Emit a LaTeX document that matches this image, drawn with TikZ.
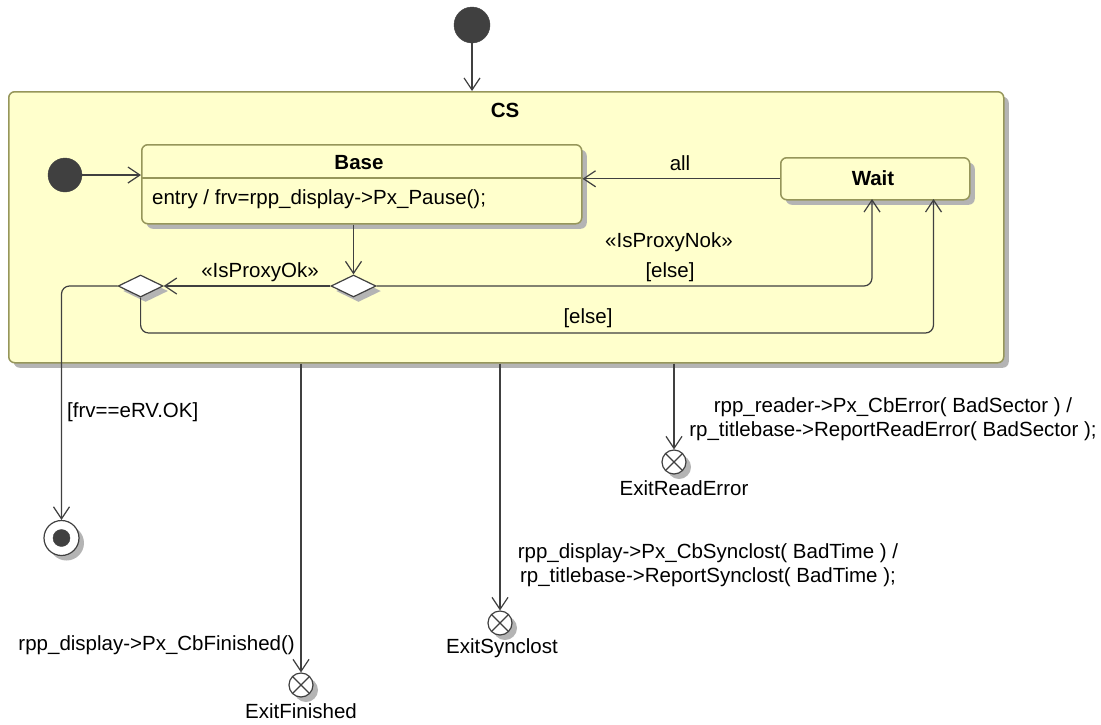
\documentclass[tikz,border=0pt]{standalone}
\usepackage{fontspec}
\setmainfont{Liberation Sans}
\usetikzlibrary{arrows.meta,shapes.geometric,shadows,calc}
\definecolor{stfill}{RGB}{255,255,204}
\definecolor{stborder}{RGB}{150,150,90}
\definecolor{ln}{RGB}{64,64,64}
\definecolor{shd}{RGB}{180,180,180}
\begin{document}
\begin{tikzpicture}[x=1pt,y=-1pt,
  txt/.style={font=\fontsize{20.5}{24}\selectfont, inner sep=0pt, text=black},
  bold/.style={txt, font=\fontsize{20.5}{24}\selectfont\bfseries},
  shad/.style={drop shadow={shadow xshift=5pt, shadow yshift=-5pt, fill=shd, opacity=1}},
  statebox/.style={draw=stborder, fill=stfill, line width=1.5pt, rounded corners=6pt, shad, inner sep=0pt},
  initdot/.style={circle, fill=ln, draw=ln, minimum size=#1, inner sep=0pt},
  choice/.style={diamond, draw=ln, fill=white, line width=1.2pt, minimum width=45pt, minimum height=22pt, inner sep=0pt, shad},
  exitpt/.style={circle, draw=ln, fill=white, line width=1.2pt, minimum size=24pt, inner sep=0pt, shad,
     path picture={\draw[ln, line width=1.2pt] (path picture bounding box.north west) -- (path picture bounding box.south east)
       (path picture bounding box.north east) -- (path picture bounding box.south west);}},
  conn/.style={draw=ln, line width=1.2pt, -{Straight Barb[length=12pt,width=16pt,line width=1.2pt]}},
  seg/.style={draw=ln, line width=1.2pt}
]
\useasboundingbox (0,0) rectangle (1101,724);

% composite state CS
\node[statebox, anchor=north west, minimum width=995pt, minimum height=271pt] (cs) at (8,91) {};
\node[bold] (cslbl) at (505,110) {CS};

% initial pseudo states
\node[initdot=36pt] (init1) at (472,25) {};
\node[initdot=34pt] (init2) at (65,175) {};

% Base
\node[statebox, anchor=north west, minimum width=440pt, minimum height=79pt] (base) at (141,144) {};
\draw[stborder, line width=1.5pt] (base.west |- 0,178) coordinate (bdl) -- (base.east |- 0,178) coordinate (bdr);
\node[bold] (baselbl) at (359,163) {Base};
\node[txt, anchor=west] (entry) at (152,199) {entry / frv=rpp\_display->Px\_Pause();};

% Wait
\node[statebox, anchor=north west, minimum width=189pt, minimum height=42pt] (wait) at (780,157) {};
\node[bold] (waitlbl) at (873,178) {Wait};

% choices
\node[choice] (d2) at (353.5,286) {};
\node[choice] (d1) at (140.6,286) {};

% final state
\node[circle, draw=ln, fill=white, line width=1.2pt, minimum size=35pt, inner sep=0pt, shad] (final) at (61.5,538) {};
\node[initdot=17pt] (finaldot) at (final.center) {};

% exit points
\node[exitpt] (exitF) at (301,685) {};
\node[exitpt] (exitS) at (500,623) {};
\node[exitpt] (exitR) at (674,462) {};

\coordinate (we1) at (872,199);
\coordinate (we2) at (933.5,199);
\coordinate (elseY) at (0,333);

% connectors
\draw[conn] (init1) -- (init1 |- cs.north);
\draw[conn] (init2) -- (init2 -| base.west);
\draw[conn] (wait.west) -- (wait.west -| base.east);
\draw[conn] (d2.north |- base.south) -- (d2.north);
\draw[conn] (d2.west) -- (d1.east);
\draw[conn, rounded corners=8pt] (d1.west) -| (final.north);
\draw[conn, rounded corners=8pt] (d1.south) |- (elseY -| we2) -- (we2);
\draw[conn, rounded corners=8pt] (d2.east) -| (we1);
\draw[conn] (exitF |- cs.south) -- (exitF.north);
\draw[conn] (exitS |- cs.south) -- (exitS.north);
\draw[conn] (exitR |- cs.south) -- (exitR.north);

% labels
\node[txt] (lall) at (680,163) {all};
\node[txt] (lok) at (260,272) {«IsProxyOk»};
\node[txt] (lnok) at (669,242) {«IsProxyNok»};
\node[txt] (lelse1) at (670,272) {[else]};
\node[txt] (lelse2) at (588,318) {[else]};
\node[txt, anchor=west] (lfrv) at (67,412) {[frv==eRV.OK]};
\node[txt, anchor=east] (lfin) at (295,645) {rpp\_display->Px\_CbFinished()};
\node[txt] (nfin) at (301,711) {ExitFinished};
\node[txt] (nsyn) at (502,648) {ExitSynclost};
\node[txt] (nrd) at (684,488) {ExitReadError};
\node[txt, align=center] (lrd) at (893,419) {rpp\_reader->Px\_CbError( BadSector ) /\\rp\_titlebase->ReportReadError( BadSector );};
\node[txt, align=center] (lsyn) at (708,565) {rpp\_display->Px\_CbSynclost( BadTime ) /\\rp\_titlebase->ReportSynclost( BadTime );};
\end{tikzpicture}
\end{document}
